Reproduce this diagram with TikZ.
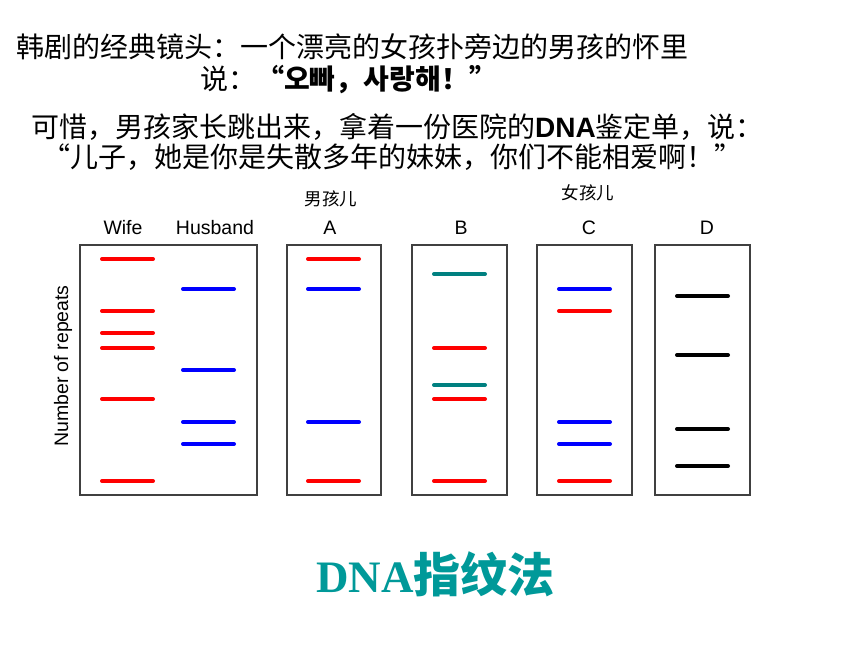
\documentclass[tikz,border=0pt]{standalone}
\usepackage{fontspec}
\setmainfont{Liberation Sans}
\newfontfamily\cjk{Noto Sans CJK SC}
\newfontfamily\arial{Liberation Sans}
\newfontfamily\serif{Liberation Serif}
\definecolor{bandteal}{RGB}{0,128,128}
\definecolor{titleteal}{RGB}{0,153,153}
\definecolor{gelgray}{RGB}{64,64,64}

\begin{document}
\begin{tikzpicture}[x=1pt,y=-1pt,
  gel/.style={draw=gelgray,line width=1.2pt},
  band/.style={line width=4pt,line cap=round},
  lane/.style={font=\arial\fontsize{19.5}{20}\selectfont,anchor=base,inner sep=0pt},
  who/.style={font=\cjk\fontsize{17.5}{18}\selectfont,anchor=base,inner sep=0pt},
  story/.style={font=\cjk\fontsize{28}{30}\selectfont,anchor=base west,inner sep=0pt}]
\useasboundingbox (0,0) rectangle (860,645);

% the story
\node[story] (line1) at (16,57) {韩剧的经典镜头：一个漂亮的女孩扑旁边的男孩的怀里};
\node[story] (line2) at (200,89) {说：{\bfseries “오빠，사랑해！”}};
\node[story] (line3) at (31,137) {可惜，男孩家长跳出来，拿着一份医院的{\arial\bfseries DNA}鉴定单，说：};
\node[story] (line4) at (42,167) {“儿子，她是你是失散多年的妹妹，你们不能相爱啊！”};

% gels
\draw[gel] (80,245) rectangle (257,495);
\draw[gel] (287,245) rectangle (381,495);
\draw[gel] (412,245) rectangle (507,495);
\draw[gel] (537,245) rectangle (632,495);
\draw[gel] (655,245) rectangle (750,495);

% lane labels
\node[lane] (wife) at (123,234) {Wife};
\node[lane] (husband) at (215,234) {Husband};
\node[lane] (laneA) at (330,234) {A};
\node[lane] (laneB) at (461,234) {B};
\node[lane] (laneC) at (589,234) {C};
\node[lane] (laneD) at (707,234) {D};
\node[who] (boy) at (331,205) {男孩儿};
\node[who] (girl) at (588,199) {女孩儿};
\node[lane,rotate=90] (repeats) at (68,366) {Number of repeats};

% bands
\foreach \x/\y/\c in {100/259/red,100/311/red,100/333/red,100/348/red,100/399/red,100/481/red,
  181/289/blue,181/370/blue,181/422/blue,181/444/blue,
  306/259/red,306/289/blue,306/422/blue,306/481/red,
  432/274/bandteal,432/348/red,432/385/bandteal,432/399/red,432/481/red,
  557/289/blue,557/311/red,557/422/blue,557/444/blue,557/481/red,
  675/296/black,675/355/black,675/429/black,675/466/black}
  \draw[band,\c] (\x+2,\y) -- ++(51,0);

\node[anchor=base west,inner sep=0pt,text=titleteal,font=\fontsize{45}{48}\selectfont] (title) at (316,592) {\serif\bfseries DNA\cjk\fontsize{47}{48}\selectfont 指纹法};
\end{tikzpicture}
\end{document}
